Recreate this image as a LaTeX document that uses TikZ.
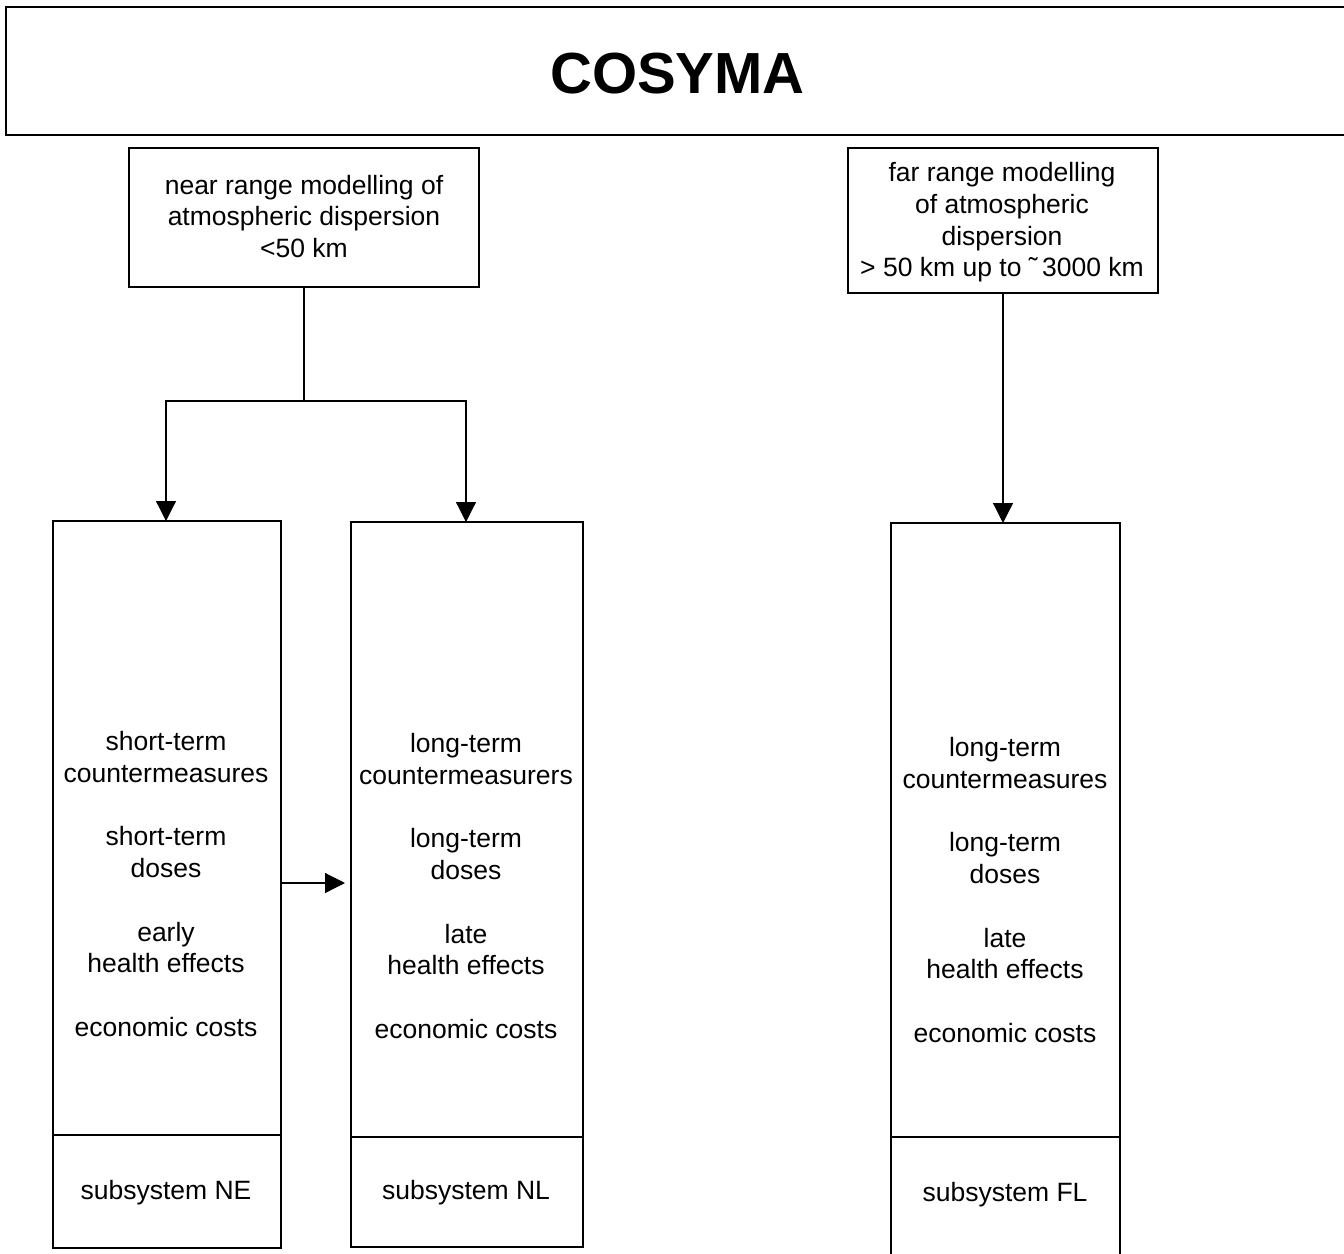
\documentclass[tikz,border=0pt]{standalone}
\usepackage{fontspec}
\setmainfont{Liberation Sans}
\usetikzlibrary{arrows.meta}
\begin{document}
\begin{tikzpicture}[x=1pt,y=-1pt,
  every node/.style={inner sep=0pt,outer sep=0pt},
  frame/.style={draw,line width=1.2pt,rectangle},
  body/.style={font=\fontsize{26.5}{31.7}\selectfont,align=center},
  arr/.style={line width=1.2pt,-{Triangle[length=20pt,width=20pt]}},
  conn/.style={line width=1.2pt}]
\useasboundingbox (0,0) rectangle (1344,1253);
% title (its right side runs off the page)
\node[minimum width=1400pt,minimum height=128pt] (title) at (706,71) {};
\draw[conn] (title.north east) -- (title.north west) -- (title.south west) -- (title.south east);
\node[font=\fontsize{58}{66}\bfseries\selectfont] (titletext) at (677.5,74) {COSYMA};
% top boxes
\node[frame,minimum width=350pt,minimum height=139pt] (near) at (304,217.5) {};
\node[body] (neartext) at (304,216.5) {near range modelling of\\atmospheric dispersion\\<50 km};
\node[frame,minimum width=310pt,minimum height=145pt] (far) at (1003,220.5) {};
\node[body] (fartext) at (1002,222.5) {far range modelling\\of atmospheric\\dispersion\\> 50 km up to ˜\,3000 km};
% tall boxes
\node[frame,minimum width=228pt,minimum height=727pt] (ne) at (167,884.5) {};
\node[frame,minimum width=232pt,minimum height=725pt] (nl) at (467,884.5) {};
\node[frame,minimum width=229pt,minimum height=737pt] (fl) at (1005.5,891.5) {};
\draw[conn] (ne.west |- 0,1135) -- (ne.east |- 0,1135);
\draw[conn] (nl.west |- 0,1137) -- (nl.east |- 0,1137);
\draw[conn] (fl.west |- 0,1137) -- (fl.east |- 0,1137);
\node[body] (netext) at (166,884) {short-term\\countermeasures\\[31.7pt]short-term\\doses\\[31.7pt]early\\health effects\\[31.7pt]economic costs};
\node[body] (nltext) at (466,886) {long-term\\countermeasurers\\[31.7pt]long-term\\doses\\[31.7pt]late\\health effects\\[31.7pt]economic costs};
\node[body] (fltext) at (1005,890) {long-term\\countermeasures\\[31.7pt]long-term\\doses\\[31.7pt]late\\health effects\\[31.7pt]economic costs};
\node[body] (nesub) at (166,1193) {subsystem NE};
\node[body] (nlsub) at (466,1193) {subsystem NL};
\node[body] (flsub) at (1005,1195) {subsystem FL};
% connectors
\coordinate (j) at (304,401);
\draw[conn] (near.south) -- (j);
\draw[arr] (j) -| ([xshift=-1pt]ne.north);
\draw[arr] (j) -| ([xshift=-1pt]nl.north);
\draw[arr] (far.south) -- (far.south |- fl.north);
\draw[arr,shorten >=6pt] (ne.east |- 0,883) -- (nl.west |- 0,883);
\end{tikzpicture}
\end{document}
